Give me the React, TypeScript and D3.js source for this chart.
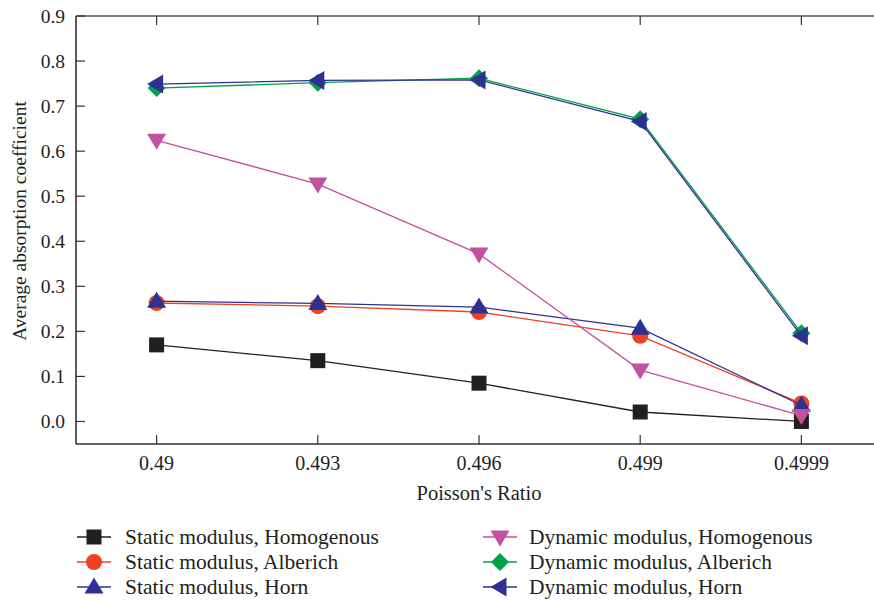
import React from "react";
import * as d3 from "d3";

const categories = ["0.49", "0.493", "0.496", "0.499", "0.4999"];
const yTicks = [0.0, 0.1, 0.2, 0.3, 0.4, 0.5, 0.6, 0.7, 0.8, 0.9];

const staticHomogenous = [0.17, 0.135, 0.085, 0.021, 0.0];
const staticAlberich = [0.263, 0.256, 0.243, 0.19, 0.04];
const staticHorn = [0.267, 0.262, 0.254, 0.207, 0.036];
const dynamicHomogenous = [0.624, 0.527, 0.372, 0.114, 0.013];
const dynamicAlberich = [0.74, 0.752, 0.762, 0.671, 0.196];
const dynamicHorn = [0.749, 0.757, 0.758, 0.666, 0.19];

const seriesNames = [
  "Static modulus, Homogenous",
  "Static modulus, Alberich",
  "Static modulus, Horn",
  "Dynamic modulus, Homogenous",
  "Dynamic modulus, Alberich",
  "Dynamic modulus, Horn",
];

const series = [
  { name: seriesNames[0], values: staticHomogenous, color: "#231f20", marker: "square" },
  { name: seriesNames[1], values: staticAlberich, color: "#ef4123", marker: "circle" },
  { name: seriesNames[2], values: staticHorn, color: "#2e3192", marker: "up" },
  { name: seriesNames[3], values: dynamicHomogenous, color: "#c2519f", marker: "down" },
  { name: seriesNames[4], values: dynamicAlberich, color: "#00a14b", marker: "diamond" },
  { name: seriesNames[5], values: dynamicHorn, color: "#2e3192", marker: "left" },
];

const FONT = "Liberation Serif, DejaVu Serif, serif";
const textStyle = { fontFamily: FONT } as React.CSSProperties;

function Marker({ type, x, y, color }: { type: string; x: number; y: number; color: string }) {
  if (type === "square")
    return <rect x={x - 7.5} y={y - 7.5} width={15} height={15} fill={color} />;
  if (type === "circle") return <circle cx={x} cy={y} r={8} fill={color} />;
  let pts: number[][] = [];
  if (type === "up") pts = [[x, y - 9.5], [x + 9.5, y + 6.5], [x - 9.5, y + 6.5]];
  if (type === "down") pts = [[x, y + 9.5], [x + 9.5, y - 6.5], [x - 9.5, y - 6.5]];
  if (type === "left") pts = [[x - 9.5, y], [x + 6.5, y - 9.5], [x + 6.5, y + 9.5]];
  if (type === "diamond") pts = [[x, y - 9], [x + 9, y], [x, y + 9], [x - 9, y]];
  return <polygon points={pts.map((p) => p.join(",")).join(" ")} fill={color} />;
}

export default function App() {
  const W = 874;
  const H = 603;
  const left = 76;
  const top = 16;
  const bottom = 444;
  const x = d3.scalePoint<string>().domain(categories).range([left, 882]).padding(0.5);
  const y = d3.scaleLinear().domain([-0.05, 0.9]).range([bottom, top]);
  const line = d3
    .line<number>()
    .x((_, i) => x(categories[i]) as number)
    .y((d) => y(d));

  const legendRows = [537, 562, 587];

  return (
    <svg width={W} height={H} style={{ position: "absolute", left: 0, top: 0 }}>
      <rect width={W} height={H} fill="#fff" />
      {/* axes */}
      <line x1={left} x2={W} y1={top} y2={top} stroke="#555" strokeWidth={1.6} />
      <line x1={left} x2={W} y1={bottom} y2={bottom} stroke="#333" strokeWidth={1.6} />
      <line x1={left} x2={left} y1={top} y2={bottom} stroke="#333" strokeWidth={1.6} />
      {yTicks.map((t) => (
        <g key={t}>
          <line x1={left} x2={left + 9} y1={y(t)} y2={y(t)} stroke="#333" strokeWidth={1.2} />
          <text x={65} y={y(t) + 6.5} textAnchor="end" style={textStyle} fontSize={19.5} fill="#231f20">
            {t.toFixed(1)}
          </text>
        </g>
      ))}
      {categories.map((c) => (
        <g key={c}>
          <line x1={x(c)} x2={x(c)} y1={bottom} y2={bottom - 9} stroke="#333" strokeWidth={1.2} />
          <line x1={x(c)} x2={x(c)} y1={top} y2={top + 9} stroke="#333" strokeWidth={1.2} />
          <text x={x(c)} y={470} textAnchor="middle" style={textStyle} fontSize={20} fill="#231f20">
            {c}
          </text>
        </g>
      ))}
      <text x={479} y={500} textAnchor="middle" style={textStyle} fontSize={20.5} fill="#231f20">
        Poisson's Ratio
      </text>
      <text
        transform={`translate(26, 221) rotate(-90)`}
        textAnchor="middle"
        style={textStyle}
        fontSize={19.5}
        fill="#231f20"
      >
        Average absorption coefficient
      </text>
      {/* series */}
      {series.map((s) => (
        <g key={s.name}>
          <path d={line(s.values) as string} fill="none" stroke={s.color} strokeWidth={1.3} />
          {s.values.map((v, i) => (
            <Marker key={i} type={s.marker} x={x(categories[i]) as number} y={y(v)} color={s.color} />
          ))}
        </g>
      ))}
      {/* legend */}
      {series.map((s, i) => {
        const col = i < 3 ? 0 : 1;
        const row = i % 3;
        const cx = col === 0 ? 94 : 500;
        const ly = legendRows[row];
        return (
          <g key={"lg" + i}>
            <line x1={cx - 17} x2={cx + 17} y1={ly} y2={ly} stroke={s.color} strokeWidth={1.3} />
            <Marker type={s.marker} x={cx} y={ly} color={s.color} />
            <text x={col === 0 ? 125 : 529} y={ly + 7} style={textStyle} fontSize={21.5} fill="#231f20">
              {s.name}
            </text>
          </g>
        );
      })}
    </svg>
  );
}
